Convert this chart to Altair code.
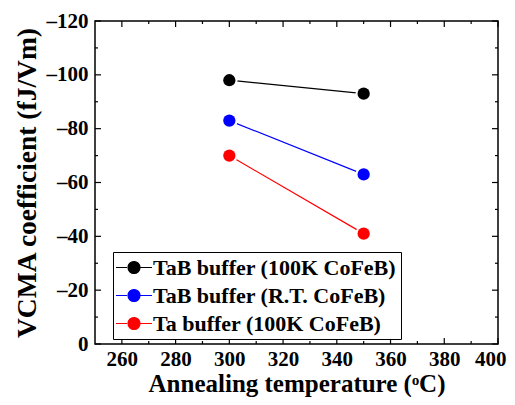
import altair as alt
import pandas as pd

temps = [300, 350]
series_names = ["TaB buffer (100K CoFeB)", "TaB buffer (R.T. CoFeB)", "Ta buffer (100K CoFeB)"]
tab_100k = [-98, -93]
tab_rt = [-83, -63]
ta_100k = [-70, -41]
colors = ["#000000", "#0000FF", "#FF0000"]

x_major = [260, 280, 300, 320, 340, 360, 380, 400]
x_minor = [270, 290, 310, 330, 350, 370, 390]
y_major = [-120, -100, -80, -60, -40, -20, 0]
y_minor = [-110, -90, -70, -50, -30, -10]

rows = []
for name, vals in zip(series_names, [tab_100k, tab_rt, ta_100k]):
    for t, v in zip(temps, vals):
        rows.append({"series": name, "temp": t, "vcma": v})
df = pd.DataFrame(rows)

W, H = 403, 323
FONT = "Liberation Serif"

xs = alt.Scale(domain=[250, 400], nice=False, zero=False)
ys = alt.Scale(domain=[-120, 0], reverse=True, nice=False, zero=False)
cs = alt.Scale(domain=series_names, range=colors)

xa = alt.Axis(values=x_major, ticks=False, domain=False, grid=False,
              labelPadding=4, labelFlush=True, labelFlushOffset=8, labelOverlap=False,
              title="Annealing temperature (ᵒC)", titlePadding=2, titleFontSize=25)
ya = alt.Axis(values=y_major, ticks=False, domain=False, grid=False,
              labelPadding=7, labelFlush=False, labelOverlap=False,
              labelExpr="datum.value < 0 ? '\u2013' + format(-datum.value, 'd') : format(datum.value, 'd')",
              title="VCMA coefficient (fJ/Vm)", titlePadding=5, titleFontSize=27.5)

sym = ("M-1.8,0H-0.7M0.6,0H1.8M0.6,0A0.6,0.6,0,1,1,-0.6,0"
       "A0.6,0.6,0,1,1,0.6,0Z")
leg = alt.Legend(
    title=None, orient="none", legendX=18, legendY=231, direction="vertical",
    strokeColor="black", fillColor="white", padding=4.5,
    symbolType=sym, symbolSize=400, symbolStrokeWidth=1.2, symbolOffset=5.5,
    labelOffset=8, labelFont=FONT, labelFontSize=22, labelFontWeight="bold",
    labelColor="black", rowPadding=6, labelLimit=400,
)

base = alt.Chart(df)

line = base.mark_line(strokeWidth=1.2).encode(
    x=alt.X("temp:Q", scale=xs, axis=xa),
    y=alt.Y("vcma:Q", scale=ys, axis=ya),
    color=alt.Color("series:N", scale=cs, legend=leg),
)

halo = base.mark_circle(color="white", size=270, opacity=1).encode(
    x=alt.X("temp:Q", scale=xs, axis=xa),
    y=alt.Y("vcma:Q", scale=ys, axis=ya),
)

points = base.mark_point(filled=True, size=150, strokeWidth=1, opacity=1).encode(
    x=alt.X("temp:Q", scale=xs, axis=xa),
    y=alt.Y("vcma:Q", scale=ys, axis=ya),
    color=alt.Color("series:N", scale=cs, legend=leg),
)


def xticks(values, y0, y1):
    d = pd.DataFrame({"temp": values})
    return alt.Chart(d).mark_rule(color="black", strokeWidth=1.2).encode(
        x=alt.X("temp:Q", scale=xs, axis=xa),
        y=alt.value(y0), y2=alt.value(y1))


def yticks(values, x0, x1):
    d = pd.DataFrame({"vcma": values})
    return alt.Chart(d).mark_rule(color="black", strokeWidth=1.2).encode(
        y=alt.Y("vcma:Q", scale=ys, axis=ya),
        x=alt.value(x0), x2=alt.value(x1))


tick_layers = [
    xticks(x_major, H, H - 6), xticks(x_minor, H, H - 3),
    xticks(x_major, 0, 6), xticks(x_minor, 0, 3),
    yticks(y_major, 0, 6), yticks(y_minor, 0, 3),
    yticks(y_major, W, W - 6), yticks(y_minor, W, W - 3),
]

chart = alt.layer(line, halo, points, *tick_layers).properties(
    width=W, height=H, background="white",
    padding={"left": 87, "top": 13, "right": 9, "bottom": 53},
    autosize=alt.AutoSizeParams(type="none"),
).configure_view(
    stroke="black", strokeWidth=1.5
).configure_axis(
    labelFont=FONT, labelFontSize=21, labelFontWeight="bold", labelColor="black",
    titleFont=FONT, titleFontWeight="bold", titleColor="black",
)

chart.save("out.html", embed_options={"renderer": "svg", "actions": False})
